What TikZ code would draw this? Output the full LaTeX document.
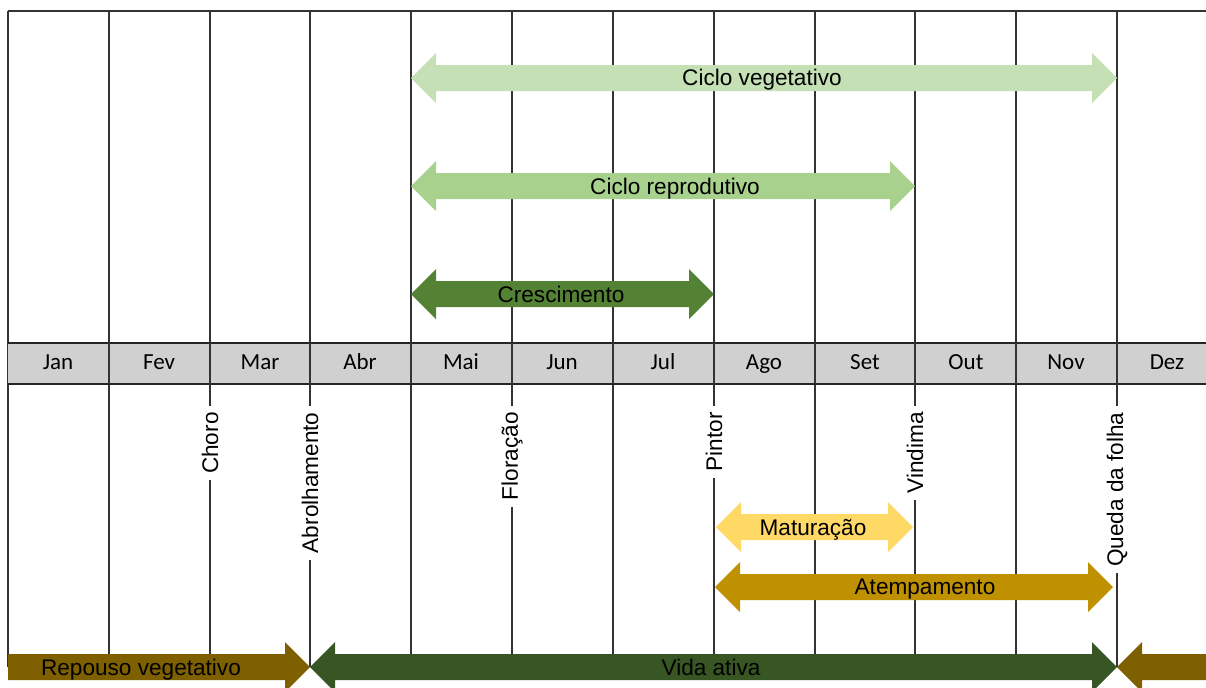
\documentclass[tikz,border=0pt]{standalone}
\usepackage{fontspec}
\setmainfont{Liberation Sans}
\newfontfamily\monthfont{Carlito}
\definecolor{vegclaro}{HTML}{C5E0B4}
\definecolor{reprod}{HTML}{A9D18E}
\definecolor{cresc}{HTML}{548235}
\definecolor{matur}{HTML}{FFD966}
\definecolor{atemp}{HTML}{BF9000}
\definecolor{repouso}{HTML}{7F6000}
\definecolor{vida}{HTML}{375623}
\definecolor{barra}{HTML}{D0D0D0}
% #1 left x, #2 right x, #3 y, #4 colour
\newcommand{\setadupla}[4]{\fill[#4] (#1,#3) -- (#1+25,#3-25) -- (#1+25,#3-13) -- (#2-25,#3-13) -- (#2-25,#3-25) -- (#2,#3) -- (#2-25,#3+25) -- (#2-25,#3+13) -- (#1+25,#3+13) -- (#1+25,#3+25) -- cycle;}
\newcommand{\setadireita}[4]{\fill[#4] (#1,#3-13) -- (#2-25,#3-13) -- (#2-25,#3-25) -- (#2,#3) -- (#2-25,#3+25) -- (#2-25,#3+13) -- (#1,#3+13) -- cycle;}
\newcommand{\setaesquerda}[4]{\fill[#4] (#1,#3) -- (#1+25,#3-25) -- (#1+25,#3-13) -- (#2,#3-13) -- (#2,#3+13) -- (#1+25,#3+13) -- (#1+25,#3+25) -- cycle;}
\begin{document}
\begin{tikzpicture}[x=0.5pt,y=-0.5pt]
%styles
\tikzstyle{grid}=[draw=black!80, line width=0.6pt]
\tikzstyle{month}=[font=\monthfont\fontsize{11.5}{13}\selectfont, text=black, anchor=base, inner sep=0pt]
\tikzstyle{arrowText}=[font=\fontsize{11.3}{13}\selectfont, text=black, anchor=base, inner sep=0pt]
\tikzstyle{eventText}=[font=\fontsize{11.3}{13}\selectfont, text=black, rotate=90, anchor=east, inner sep=3pt]
\useasboundingbox (0,0) rectangle (1206,687);
\clip (0,0) rectangle (1206,687);
%figure
\draw[grid] (8,11) -- (1206,11);
\draw[grid] (8,11) -- (8,667);
\draw[grid] (109,11) -- (109,667);
\draw[grid] (210,11) -- (210,343);
\draw[grid] (310,11) -- (310,343);
\draw[grid] (411,11) -- (411,667);
\draw[grid] (512,11) -- (512,343);
\draw[grid] (613,11) -- (613,667);
\draw[grid] (714,11) -- (714,343);
\draw[grid] (815,11) -- (815,667);
\draw[grid] (915,11) -- (915,343);
\draw[grid] (1016,11) -- (1016,667);
\draw[grid] (1117,11) -- (1117,343);
%barra dos meses
\fill[barra] (8,343) rectangle (1206,384);
\draw[draw=black!85, line width=1.1pt] (8,343) -- (1206,343);
\draw[draw=black!85, line width=0.8pt] (8,384) -- (1206,384);
\draw[grid] (109,343) -- (109,384);
\draw[grid] (210,343) -- (210,384);
\draw[grid] (310,343) -- (310,384);
\draw[grid] (411,343) -- (411,384);
\draw[grid] (512,343) -- (512,384);
\draw[grid] (613,343) -- (613,384);
\draw[grid] (714,343) -- (714,384);
\draw[grid] (815,343) -- (815,384);
\draw[grid] (915,343) -- (915,384);
\draw[grid] (1016,343) -- (1016,384);
\draw[grid] (1117,343) -- (1117,384);
%nodes
\node[month] (jan) at (58,369) {Jan};
\node[month] (fev) at (159,369) {Fev};
\node[month] (mar) at (260,369) {Mar};
\node[month] (abr) at (360,369) {Abr};
\node[month] (mai) at (461,369) {Mai};
\node[month] (jun) at (562,369) {Jun};
\node[month] (jul) at (663,369) {Jul};
\node[month] (ago) at (764,369) {Ago};
\node[month] (set) at (865,369) {Set};
\node[month] (out) at (966,369) {Out};
\node[month] (nov) at (1066,369) {Nov};
\node[month] (dez) at (1167,369) {Dez};
%eventos
\node[eventText] (choro) at (210,406) {Choro};
\node[eventText] (abrol) at (310,406) {Abrolhamento};
\node[eventText] (flor) at (512,406) {Floração};
\node[eventText] (pintor) at (714,406) {Pintor};
\node[eventText] (vindima) at (915,406) {Vindima};
\node[eventText] (queda) at (1117,406) {Queda da folha};
\draw[grid] (210,384) -- (choro.east);
\draw[grid] (choro.west) -- (210,667);
\draw[grid] (310,384) -- (abrol.east);
\draw[grid] (abrol.west) -- (310,667);
\draw[grid] (512,384) -- (flor.east);
\draw[grid] (flor.west) -- (512,667);
\draw[grid] (714,384) -- (pintor.east);
\draw[grid] (pintor.west) -- (714,667);
\draw[grid] (915,384) -- (vindima.east);
\draw[grid] (vindima.west) -- (915,667);
\draw[grid] (1117,384) -- (queda.east);
\draw[grid] (queda.west) -- (1117,667);
%setas
\setadupla{411}{1117}{78}{vegclaro}
\setadupla{411}{915}{186}{reprod}
\setadupla{411}{714}{294}{cresc}
\setadupla{716}{913}{527}{matur}
\setadupla{715}{1113}{587}{atemp}
\setadireita{8}{310}{667}{repouso}
\setadupla{310}{1117}{667}{vida}
\setaesquerda{1117}{1260}{667}{repouso}
%text
\node[arrowText] (cicloveg) at (762,85) {Ciclo vegetativo};
\node[arrowText] (ciclorep) at (675,194) {Ciclo reprodutivo};
\node[arrowText] (crescimento) at (561,302) {Crescimento};
\node[arrowText] (maturacao) at (813,535) {Maturação};
\node[arrowText] (atempamento) at (925,594) {Atempamento};
\node[arrowText] (repousoveg) at (141,675) {Repouso vegetativo};
\node[arrowText] (vidaativa) at (711,675) {Vida ativa};
\end{tikzpicture}
\end{document}
